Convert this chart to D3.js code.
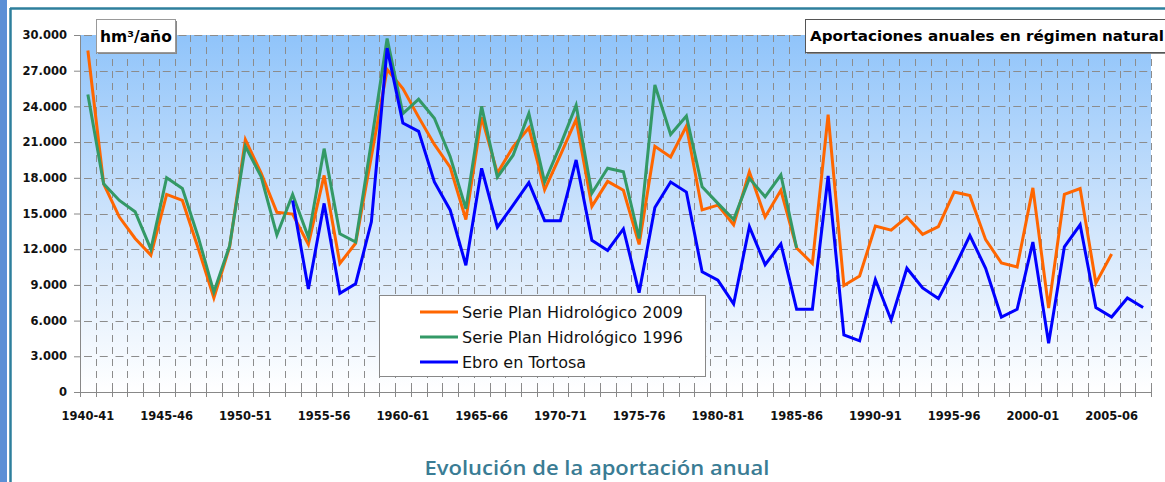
<!DOCTYPE html>
<html lang="es">
<head>
  <meta charset="UTF-8">
  <title>Evolución de la aportación anual</title>
  <style>
    body { margin: 0; background: #fff; }
    svg { display: block; }
    .tick-lbl { font-family: "DejaVu Sans", Verdana, sans-serif; font-weight: bold; font-size: 11.5px; fill: #111; }
    .lgd { font-family: "DejaVu Sans", Verdana, sans-serif; font-size: 16px; fill: #111; }
  </style>
  <script src="https://d3js.org/d3.v7.min.js"></script>
</head>
<body>
  <svg id="chart" width="1165" height="482"></svg>
  <script>
  // hydrological years shown on the category axis
  const seasons = [
    '1940-41','1941-42','1942-43','1943-44','1944-45','1945-46','1946-47','1947-48','1948-49','1949-50',
    '1950-51','1951-52','1952-53','1953-54','1954-55','1955-56','1956-57','1957-58','1958-59','1959-60',
    '1960-61','1961-62','1962-63','1963-64','1964-65','1965-66','1966-67','1967-68','1968-69','1969-70',
    '1970-71','1971-72','1972-73','1973-74','1974-75','1975-76','1976-77','1977-78','1978-79','1979-80',
    '1980-81','1981-82','1982-83','1983-84','1984-85','1985-86','1986-87','1987-88','1988-89','1989-90',
    '1990-91','1991-92','1992-93','1993-94','1994-95','1995-96','1996-97','1997-98','1998-99','1999-00',
    '2000-01','2001-02','2002-03','2003-04','2004-05','2005-06','2006-07','2007-08'
  ];
  const labelledSeasons = ['1940-41','1945-46','1950-51','1955-56','1960-61','1965-66','1970-71',
    '1975-76','1980-81','1985-86','1990-91','1995-96','2000-01','2005-06'];
  const yTicks = [0,3000,6000,9000,12000,15000,18000,21000,24000,27000,30000];

  // hm3/año
  const plan2009 = [
    28700,17500,14700,12900,11500,16600,16100,12100,7900,12200,
    21200,18400,15100,14950,12400,18200,10800,12500,19800,27100,
    25500,23100,20800,18900,14500,23100,18400,20600,22200,17000,
    19900,22900,15600,17700,16950,12400,20650,19750,22350,15300,
    15700,14050,18500,14700,16950,12100,10800,23300,8950,9750,
    13950,13600,14700,13250,13900,16800,16500,12800,10850,10500,
    17150,7050,16600,17100,9150,11600,null,null
  ];
  const plan1996 = [
    25000,17500,16100,15150,12000,18000,17100,13050,8400,12300,
    20650,18100,13200,16600,13000,20450,13300,12600,21000,29700,
    23400,24600,23000,19800,15400,24000,18050,19900,23400,17650,
    20750,24100,16700,18800,18500,12900,25800,21650,23200,17250,
    15850,14500,17950,16400,18250,12100,null,null,null,null,
    null,null,null,null,null,null,null,null,null,null,
    null,null,null,null,null,null,null,null
  ];
  const tortosa = [
    null,null,null,null,null,null,null,null,null,null,
    null,null,null,16100,8650,15850,8300,9100,14300,28900,
    22600,21900,17650,15300,10650,18800,13850,15700,17600,14400,
    14400,19500,12750,11900,13700,8350,15500,17650,16800,10100,
    9400,7400,13900,10700,12450,6950,6950,18150,4800,4300,
    9450,6050,10400,8750,7850,10400,13150,10400,6300,6950,
    12600,4100,12200,14050,7100,6300,7900,7100
  ];

  const series = [
    { name: 'Serie Plan Hidrológico 2009', values: plan2009, color: '#ff6600' },
    { name: 'Serie Plan Hidrológico 1996', values: plan1996, color: '#339966' },
    { name: 'Ebro en Tortosa', values: tortosa, color: '#0000ff' }
  ];

  const svg = d3.select('#chart');
  const L = 80, R = 1151, T = 35, B = 392;

  // outer frame
  svg.append('rect').attr('x',0).attr('y',0).attr('width',7).attr('height',482).attr('fill','#5b8fd6');
  svg.append('line').attr('x1',10.5).attr('x2',10.5).attr('y1',8).attr('y2',482)
    .attr('stroke','#2e7f9c').attr('stroke-width',2.5);
  svg.append('line').attr('x1',10).attr('x2',1165).attr('y1',8.5).attr('y2',8.5)
    .attr('stroke','#2e7f9c').attr('stroke-width',2.5);

  const x = d3.scaleBand().domain(seasons).range([L, R]).padding(0);
  const y = d3.scaleLinear().domain([0, 30000]).range([B, T]);
  const cx = d => x(d) + x.bandwidth() / 2;

  // background gradient
  const grad = svg.append('defs').append('linearGradient')
    .attr('id','bg').attr('x1',0).attr('x2',0).attr('y1',0).attr('y2',1);
  grad.append('stop').attr('offset','0%').attr('stop-color','#90c4fa');
  grad.append('stop').attr('offset','55%').attr('stop-color','#d2e6fc');
  grad.append('stop').attr('offset','100%').attr('stop-color','#ffffff');
  svg.append('rect').attr('x',L).attr('y',T).attr('width',R-L).attr('height',B-T).attr('fill','url(#bg)');

  // grid
  const grid = svg.append('g').attr('stroke','#8c8c8c').attr('stroke-width',1);
  const bounds = seasons.map(s => x(s) + x.bandwidth());
  grid.selectAll('line.v').data(bounds).join('line')
    .attr('x1', d => Math.round(d) + 0.5).attr('x2', d => Math.round(d) + 0.5)
    .attr('y1', T).attr('y2', B)
    .attr('stroke-dasharray','7,5');
  grid.selectAll('line.h').data(yTicks.filter(v => v > 0)).join('line')
    .attr('x1', L).attr('x2', R)
    .attr('y1', d => Math.round(y(d)) + 0.5).attr('y2', d => Math.round(y(d)) + 0.5)
    .attr('stroke-dasharray','8,7.75').attr('stroke-dashoffset', -4);

  // axes
  const yAxis = svg.append('g').attr('transform',`translate(${L},0)`)
    .call(d3.axisLeft(y).tickValues(yTicks).tickSize(6).tickPadding(7)
      .tickFormat(d => d3.format(',')(d).replace(/,/g,'.')));
  yAxis.select('.domain').attr('stroke','#888');
  yAxis.selectAll('.tick line').attr('stroke','#888');
  yAxis.selectAll('text').attr('class','tick-lbl').attr('font-family',null).attr('font-size',null).attr('fill',null);

  const xAxis = svg.append('g').attr('transform',`translate(0,${B})`);
  xAxis.append('line').attr('x1',L).attr('x2',R).attr('y1',0.5).attr('y2',0.5).attr('stroke','#888');
  xAxis.selectAll('line.tk').data([L].concat(bounds)).join('line')
    .attr('x1', d => Math.round(d) + 0.5).attr('x2', d => Math.round(d) + 0.5)
    .attr('y1', -4).attr('y2', 5).attr('stroke','#888');
  xAxis.selectAll('text').data(labelledSeasons).join('text')
    .attr('class','tick-lbl')
    .attr('x', d => cx(d)).attr('y', 28)
    .attr('text-anchor','middle')
    .text(d => d);

  // lines
  const line = d3.line()
    .defined(d => d.v != null)
    .x(d => cx(d.s)).y(d => y(d.v));
  svg.append('g').selectAll('path').data(series).join('path')
    .attr('d', d => line(d.values.map((v, i) => ({ s: seasons[i], v }))))
    .attr('fill','none')
    .attr('stroke', d => d.color)
    .attr('stroke-width', 3)
    .attr('stroke-linejoin','miter');

  // text boxes
  function box(x0, y0, w, h, border) {
    svg.append('rect').attr('x',x0+2).attr('y',y0+2).attr('width',w).attr('height',h).attr('fill','#888');
    svg.append('rect').attr('x',x0+0.5).attr('y',y0+0.5).attr('width',w).attr('height',h)
      .attr('fill','#fff').attr('stroke',border).attr('stroke-width',1);
  }
  box(96, 19, 79, 33, '#999');
  svg.append('text').attr('x',100).attr('y',42)
    .attr('font-family','"DejaVu Sans", Verdana, sans-serif').attr('font-weight','bold')
    .attr('font-size',15.5).attr('fill','#000')
    .text('hm³/año');

  box(805, 19, 362, 33, '#555');
  svg.append('text').attr('x',810).attr('y',41)
    .attr('font-family','"DejaVu Sans", Verdana, sans-serif').attr('font-weight','bold')
    .attr('font-size',14.5).attr('fill','#000')
    .attr('textLength',354).attr('lengthAdjust','spacingAndGlyphs')
    .text('Aportaciones anuales en régimen natural');

  // legend
  svg.append('rect').attr('x',379.5).attr('y',295.5).attr('width',326).attr('height',81)
    .attr('fill','#fff').attr('stroke','#888');
  const lg = svg.append('g').selectAll('g').data(series).join('g')
    .attr('transform', (d, i) => `translate(420,${312 + i * 25})`);
  lg.append('line').attr('x1',0).attr('x2',38).attr('stroke', d => d.color).attr('stroke-width',3);
  lg.append('text').attr('class','lgd').attr('x',42).attr('y',6).text(d => d.name);

  // chart title
  svg.append('text').attr('x',597).attr('y',475).attr('text-anchor','middle')
    .attr('font-family','"Open Sans", sans-serif').attr('font-weight',600)
    .attr('font-size',19).attr('fill','#3a7c94')
    .attr('textLength',345).attr('lengthAdjust','spacingAndGlyphs')
    .text('Evolución de la aportación anual');
  </script>
</body>
</html>
